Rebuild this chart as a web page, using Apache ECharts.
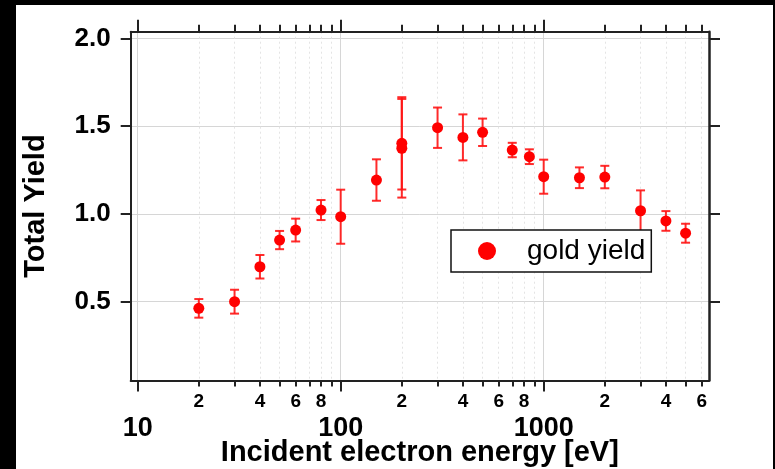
<!DOCTYPE html>
<html>
<head>
<meta charset="utf-8">
<script src="https://cdn.jsdelivr.net/npm/echarts@6/dist/echarts.min.js"></script>
<style>
html,body{margin:0;padding:0;background:#000;width:775px;height:469px;overflow:hidden;}
#c{position:absolute;left:16px;top:5px;width:757px;height:464px;background:#fff;}
</style>
</head>
<body>
<div id="c"></div>
<script>
// ---- data ----
const energies = [20, 30, 40, 50, 60, 80, 100, 150, 200, 200, 300, 400, 500, 700, 850, 1000, 1500, 2000, 3000, 4000, 5000];
const yields   = [0.462, 0.500, 0.699, 0.851, 0.908, 1.022, 0.984, 1.193, 1.402, 1.374, 1.491, 1.436, 1.465, 1.364, 1.326, 1.212, 1.206, 1.210, 1.018, 0.960, 0.890];
const errors   = [0.053, 0.068, 0.067, 0.052, 0.065, 0.057, 0.154, 0.118, 0.263, 0.281, 0.115, 0.131, 0.078, 0.041, 0.042, 0.097, 0.059, 0.064, 0.116, 0.056, 0.054];
const majorTicksX = [10, 100, 1000];
const minorTicksX = [20, 30, 40, 50, 60, 70, 80, 90, 200, 300, 400, 500, 600, 700, 800, 900, 2000, 3000, 4000, 5000, 6000];
const minorLabelsX = [20, 40, 60, 80, 200, 400, 600, 800, 2000, 4000, 6000];
const yTicks = [0.5, 1.0, 1.5, 2.0];
const seriesName = 'gold yield';
const xTitle = 'Incident electron energy [eV]';
const yTitle = 'Total Yield';

const xMin = 9.237, xMax = 6521;
const yMin = 0.051, yMax = 2.038;
const FONT = '"Liberation Sans", Arial, Helvetica, sans-serif';
const FRAME = '#222';

const scatterData = energies.map((e, i) => [e, yields[i]]);
const errData = energies.map((e, i) => [e, yields[i], yields[i] - errors[i], yields[i] + errors[i]]);

function leadDigit(v) {
  const p = Math.floor(Math.log10(v) + 1e-9);
  return String(Math.round(v / Math.pow(10, p)));
}

const baseX = {type: 'log', logBase: 10, min: xMin, max: xMax, gridIndex: 0};

const chart = echarts.init(document.getElementById('c'), null, {renderer: 'canvas'});
chart.setOption({
  animation: false,
  backgroundColor: '#fff',
  grid: {left: 114.7, right: 64, top: 26.7, bottom: 88.5, containLabel: false, outerBoundsMode: 'none'},
  legend: {
    left: 435, top: 225,
    data: [{name: seriesName, icon: 'circle'}],
    itemWidth: 18, itemHeight: 18,
    padding: [7, 6, 7, 27],
    borderColor: '#111', borderWidth: 1.5, borderRadius: 0,
    backgroundColor: '#fff',
    textStyle: {fontFamily: FONT, fontSize: 28, color: '#000', lineHeight: 28, padding: [0, 0, 0, 26]}
  },
  xAxis: [
    Object.assign({}, baseX, {
      position: 'bottom',
      axisLine: {show: true, lineStyle: {color: FRAME, width: 2}},
      axisTick: {show: true, inside: false, length: 11, customValues: majorTicksX, lineStyle: {color: FRAME, width: 2}},
      axisLabel: {show: true, customValues: majorTicksX, margin: 35, fontFamily: FONT, fontSize: 27, fontWeight: 'bold', color: '#000',
        formatter: v => String(Math.round(v))},
      splitLine: {show: true, lineStyle: {color: '#d6d6d6', width: 1, type: 'solid'}},
      name: xTitle, nameLocation: 'middle', nameGap: 58, nameMoveOverlap: false,
      nameTextStyle: {fontFamily: FONT, fontSize: 29, fontWeight: 'bold', color: '#000'}
    }),
    Object.assign({}, baseX, {
      position: 'bottom',
      axisLine: {show: false},
      axisTick: {show: true, inside: false, length: 6, customValues: minorTicksX, lineStyle: {color: FRAME, width: 2}},
      axisLabel: {show: true, customValues: minorLabelsX, margin: 12, fontFamily: FONT, fontSize: 19, fontWeight: 'bold', color: '#000',
        formatter: v => leadDigit(v)},
      splitLine: {show: true, lineStyle: {color: '#e4e4e4', width: 1, type: [2, 3]}}
    }),
    Object.assign({}, baseX, {
      position: 'top',
      axisLine: {show: true, lineStyle: {color: FRAME, width: 2}},
      axisTick: {show: true, inside: false, length: 12, customValues: majorTicksX, lineStyle: {color: FRAME, width: 2}},
      axisLabel: {show: false},
      splitLine: {show: false}
    }),
    Object.assign({}, baseX, {
      position: 'top',
      axisLine: {show: false},
      axisTick: {show: true, inside: false, length: 7, customValues: minorTicksX, lineStyle: {color: FRAME, width: 2}},
      axisLabel: {show: false},
      splitLine: {show: false}
    })
  ],
  yAxis: [
    {
      type: 'value', min: yMin, max: yMax, position: 'left', gridIndex: 0,
      axisLine: {show: true, lineStyle: {color: FRAME, width: 2}},
      axisTick: {show: true, inside: false, length: 10, customValues: yTicks, lineStyle: {color: FRAME, width: 2}},
      axisLabel: {show: true, customValues: yTicks, margin: 20, fontFamily: FONT, fontSize: 26, fontWeight: 'bold', color: '#000',
        formatter: v => v.toFixed(1)},
      splitLine: {show: true, lineStyle: {color: '#d6d6d6', width: 1}},
      name: yTitle, nameLocation: 'middle', nameGap: 80, nameRotate: 90, nameMoveOverlap: false,
      nameTextStyle: {fontFamily: FONT, fontSize: 29, fontWeight: 'bold', color: '#000'}
    },
    {
      type: 'value', min: yMin, max: yMax, position: 'right', gridIndex: 0,
      axisLine: {show: true, lineStyle: {color: FRAME, width: 2.5}},
      axisTick: {show: true, inside: false, length: 11, customValues: yTicks, lineStyle: {color: FRAME, width: 2}},
      axisLabel: {show: false},
      splitLine: {show: false}
    }
  ],
  series: [
    {
      type: 'custom',
      xAxisIndex: 0, yAxisIndex: 0,
      data: errData,
      encode: {x: 0, y: [1, 2, 3]},
      z: 2,
      renderItem: function (params, api) {
        const x = api.value(0);
        const top = api.coord([x, api.value(3)]);
        const bot = api.coord([x, api.value(2)]);
        const w = 4.5;
        const st = {stroke: 'rgba(255,20,20,0.9)', lineWidth: 2};
        return {
          type: 'group',
          children: [
            {type: 'line', shape: {x1: top[0], y1: top[1], x2: bot[0], y2: bot[1]}, style: st},
            {type: 'line', shape: {x1: top[0] - w, y1: top[1], x2: top[0] + w, y2: top[1]}, style: st},
            {type: 'line', shape: {x1: bot[0] - w, y1: bot[1], x2: bot[0] + w, y2: bot[1]}, style: st}
          ]
        };
      }
    },
    {
      name: seriesName,
      type: 'scatter',
      xAxisIndex: 0, yAxisIndex: 0,
      data: scatterData,
      symbol: 'circle',
      symbolSize: 11,
      itemStyle: {color: '#ff0000', opacity: 1},
      z: 3
    }
  ]
});
</script>
</body>
</html>
